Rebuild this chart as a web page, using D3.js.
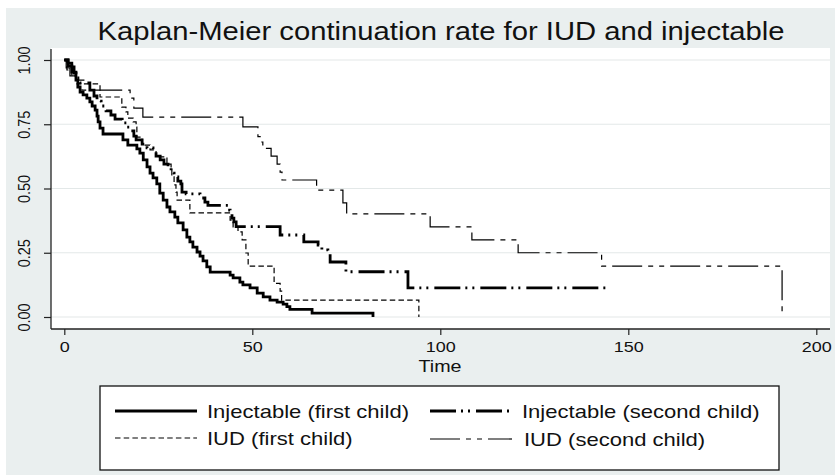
<!DOCTYPE html>
<html>
<head>
<meta charset="utf-8">
<script src="https://cdn.jsdelivr.net/npm/d3@7"></script>
<style>
  body { margin: 0; background: #ffffff; }
  text { font-family: "Liberation Sans", Arial, sans-serif; fill: #111; }
</style>
</head>
<body>
<script>
// Kaplan-Meier step values (time, survival)
var injFirstTime = [0, 1.0, 2.0, 2.6, 3.1, 3.6, 4.2, 5.0, 6.0, 6.8, 7.4, 8.2, 8.7, 9.0, 9.5, 10.3, 15.6, 16.9, 19.3, 20.1,
  21.0, 22.0, 22.8, 23.6, 24.6, 25.4, 26.3, 27.3, 28.1, 29.4, 30.2, 31.6, 32.6, 33.4, 34.2, 35.3, 36.1, 36.9, 37.9, 38.8,
  44.1, 44.9, 46.7, 47.5, 49.4, 51.3, 52.9, 54.7, 56.6, 58.2, 59.2, 60.0, 65.9, 82.1];
var injFirstSurv = [1, .988, .973, .949, .922, .895, .875, .864, .852, .837, .821, .805, .782, .759, .735, .712, .689, .669, .654, .638,
  .611, .584, .560, .541, .518, .482, .455, .428, .409, .389, .366, .339, .311, .292, .272, .253, .237, .218, .195, .175,
  .163, .152, .136, .125, .113, .093, .078, .066, .058, .050, .040, .030, .015, 0];

var injSecondTime = [0, 1.0, 2.0, 3.1, 4.2, 6.8, 7.9, 8.7, 9.8, 11.1, 12.4, 13.5, 15.4, 16.7, 17.5, 18.5, 19.1, 20.7, 22.0, 23.6,
  24.4, 25.5, 26.5, 27.6, 28.4, 29.2, 30.2, 31.0, 31.3, 32.4, 36.1, 37.4, 38.2, 43.5, 44.1, 44.6, 45.1, 45.7, 57.4, 63.7,
  67.5, 68.5, 70.1, 70.7, 74.9, 91.4, 145.1];
var injSecondSurv = [1, .977, .953, .930, .911, .883, .860, .840, .821, .802, .786, .770, .755, .739, .724, .704, .689, .673, .658, .642,
  .626, .611, .595, .580, .560, .545, .529, .518, .486, .479, .463, .447, .434, .416, .401, .385, .370, .352, .319, .292,
  .280, .261, .249, .214, .176, .113, .113];

var iudFirstTime = [0, 0.7, 2.0, 3.1, 5.2, 9.5, 15.3, 16.4, 16.9, 18.3, 19.1, 19.3, 20.7, 22.8, 24.4, 27.3, 28.4, 28.6, 29.2, 29.7,
  30.0, 33.4, 44.1, 44.9, 46.2, 47.3, 48.3, 48.9, 55.8, 57.4, 57.8, 94.3];
var iudFirstSurv = [1, .961, .938, .922, .907, .856, .817, .798, .774, .759, .739, .700, .669, .650, .623, .595, .572, .545, .514, .486,
  .455, .405, .377, .351, .331, .300, .249, .198, .131, .101, .066, 0];

var iudSecondTime = [0, 0.5, 1.5, 3.1, 4.7, 17.5, 18.5, 20.9, 47.5, 51.5, 52.3, 52.8, 55.0, 56.6, 57.4, 57.9, 67.1, 74.1, 75.1, 97.3,
  108.4, 120.7, 142.9, 190.9];
var iudSecondSurv = [1, .969, .938, .907, .883, .852, .813, .778, .740, .702, .681, .656, .626, .595, .564, .533, .494, .444, .401, .351,
  .300, .250, .198, 0];

var seriesNames = ['Injectable (first child)', 'Injectable (second child)', 'IUD (first child)', 'IUD (second child)'];
var xTicks = [0, 50, 100, 150, 200];
var yTicks = [0, 0.25, 0.5, 0.75, 1];
var yTickLabels = ['0.00', '0.25', '0.50', '0.75', '1.00'];

var screen = { width: 835, height: 475 };
var SX = 1.16; // the picture is stretched sideways, so is its text

var svg = d3.select('body').append('svg')
  .attr('width', screen.width)
  .attr('height', screen.height);

// graph region
svg.append('rect')
  .attr('x', 6).attr('y', 8)
  .attr('width', screen.width - 6).attr('height', screen.height - 8)
  .attr('fill', '#eaefef');

var plot = { left: 51, right: 830, top: 48, bottom: 329 };
svg.append('rect')
  .attr('x', plot.left).attr('y', plot.top)
  .attr('width', plot.right - plot.left).attr('height', plot.bottom - plot.top)
  .attr('fill', '#ffffff');

var xScale = d3.scaleLinear().domain([0, 200]).range([64.3, 816.3]);
var yScale = d3.scaleLinear().domain([0, 1]).range([317, 60]);

// grid
svg.append('g').selectAll('line')
  .data(yTicks)
  .enter()
  .append('line')
  .attr('x1', plot.left).attr('x2', plot.right)
  .attr('y1', function(d){ return yScale(d); })
  .attr('y2', function(d){ return yScale(d); })
  .attr('stroke', '#e3e8e8')
  .attr('stroke-width', 1.2);

// axes
var yAxis = svg.append('g')
  .attr('transform', 'translate(' + plot.left + ',0)')
  .call(d3.axisLeft(yScale).tickValues(yTicks).tickSize(7).tickSizeOuter(0)
    .tickFormat(function(d, i){ return yTickLabels[i]; }));
yAxis.select('.domain').remove();
yAxis.selectAll('line').attr('stroke', '#222').attr('stroke-width', 1.2);
yAxis.selectAll('text')
  .attr('x', 0).attr('dy', 0)
  .attr('text-anchor', 'middle')
  .attr('font-size', 14.5)
  .attr('transform', 'translate(-21,0) scale(' + SX + ',1) rotate(-90)');

var xAxis = svg.append('g')
  .attr('transform', 'translate(0,' + plot.bottom + ')')
  .call(d3.axisBottom(xScale).tickValues(xTicks).tickSize(6).tickSizeOuter(0));
xAxis.select('.domain').remove();
xAxis.selectAll('line').attr('stroke', '#222').attr('stroke-width', 1.2);
xAxis.selectAll('text')
  .attr('y', 0).attr('dy', 0)
  .attr('font-size', 15.5)
  .attr('transform', 'translate(0,23) scale(' + SX + ',1)');

svg.append('line')
  .attr('x1', plot.left).attr('x2', plot.left)
  .attr('y1', plot.top + 1).attr('y2', plot.bottom)
  .attr('stroke', '#222').attr('stroke-width', 1.3);
svg.append('line')
  .attr('x1', plot.left).attr('x2', plot.right)
  .attr('y1', plot.bottom).attr('y2', plot.bottom)
  .attr('stroke', '#222').attr('stroke-width', 1.3);

svg.append('text')
  .attr('text-anchor', 'middle')
  .attr('font-size', 17)
  .attr('transform', 'translate(440,372) scale(' + SX + ',1)')
  .text('Time');

svg.append('text')
  .attr('text-anchor', 'middle')
  .attr('font-size', 25.2)
  .attr('transform', 'translate(441,40) scale(' + SX + ',1)')
  .text('Kaplan-Meier continuation rate for IUD and injectable');

// curves
var styles = [
  { width: 2.8, dash: null },
  { width: 2.8, dash: '26,5,2,5,2,6' },
  { width: 1.2, dash: '5.5,3.2' },
  { width: 1.2, dash: '30,6,5,6,5,6' }
];
var curves = [
  d3.zip(injFirstTime, injFirstSurv),
  d3.zip(injSecondTime, injSecondSurv),
  d3.zip(iudFirstTime, iudFirstSurv),
  d3.zip(iudSecondTime, iudSecondSurv)
];
var line = d3.line()
  .x(function(d){ return xScale(d[0]); })
  .y(function(d){ return yScale(d[1]); })
  .curve(d3.curveStepAfter);

var drawOrder = [3, 2, 1, 0];
drawOrder.forEach(function(i){
  svg.append('path')
    .attr('d', line(curves[i]))
    .attr('fill', 'none')
    .attr('stroke', '#000')
    .attr('stroke-width', styles[i].width)
    .attr('stroke-dasharray', styles[i].dash);
});

// legend
var legend = svg.append('g').classed('legend', true);
legend.append('rect')
  .attr('x', 100).attr('y', 386)
  .attr('width', 679).attr('height', 84)
  .attr('fill', '#ffffff')
  .attr('stroke', '#111')
  .attr('stroke-width', 1.3);

var legendPos = [
  { kx: 115, tx: 207, y: 411 },
  { kx: 430, tx: 522, y: 411 },
  { kx: 115, tx: 207, y: 438 },
  { kx: 430, tx: 524, y: 439 }
];
seriesNames.forEach(function(name, i){
  var p = legendPos[i];
  legend.append('line')
    .attr('x1', p.kx).attr('x2', p.kx + 82)
    .attr('y1', p.y).attr('y2', p.y)
    .attr('stroke', '#000')
    .attr('stroke-width', styles[i].width)
    .attr('stroke-dasharray', styles[i].dash);
  legend.append('text')
    .attr('font-size', 19)
    .attr('transform', 'translate(' + p.tx + ',' + (p.y + 6.5) + ') scale(' + SX + ',1)')
    .text(name);
});
</script>
</body>
</html>
